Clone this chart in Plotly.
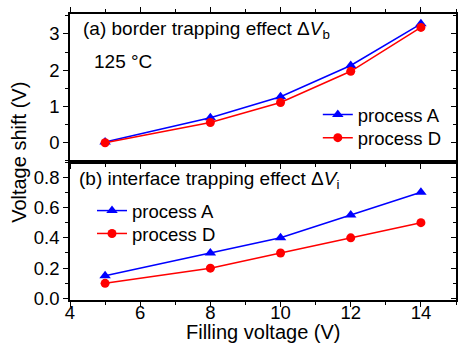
import plotly.graph_objects as go

x = [5, 8, 10, 12, 14]
border_A = [0.02, 0.69, 1.27, 2.13, 3.28]
border_D = [0.0, 0.56, 1.11, 1.97, 3.18]
iface_A = [0.15, 0.30, 0.40, 0.55, 0.70]
iface_D = [0.10, 0.20, 0.30, 0.40, 0.50]
x_ticks = [4, 6, 8, 10, 12, 14]

BLUE = "#0000ff"
RED = "#ff0000"
FONT = "Liberation Sans, Arial, sans-serif"
FS = 18.5

fig = go.Figure()
for ys, name, col, sym, xa, ya, lg in [
    (border_A, "process A", BLUE, "triangle-up", "x2", "y2", "legend"),
    (border_D, "process D", RED, "circle", "x2", "y2", "legend2"),
    (iface_A, "process A", BLUE, "triangle-up", "x", "y", "legend3"),
    (iface_D, "process D", RED, "circle", "x", "y", "legend4"),
]:
    fig.add_trace(go.Scatter(
        x=x, y=ys, name=name, mode="lines+markers", xaxis=xa, yaxis=ya,
        line=dict(color=col, width=1.5),
        marker=dict(symbol=sym, size=10 if sym == "triangle-up" else 9, color=col),
        legend=lg, showlegend=True,
    ))
# empty traces so the right-hand tick axes are drawn
for xa, ya in [("x", "y3"), ("x2", "y4")]:
    fig.add_trace(go.Scatter(x=[None], y=[None], xaxis=xa, yaxis=ya, showlegend=False,
                             hoverinfo="skip", mode="lines"))

base = dict(showline=True, linecolor="black", linewidth=1.5, showgrid=False, zeroline=False,
            tickcolor="black", tickwidth=1.2,
            tickfont=dict(family=FONT, size=FS, color="black"))

split = 138 / 286


def leg(xp, yp):
    return dict(x=xp, y=yp, xanchor="left", yanchor="middle", bgcolor="rgba(0,0,0,0)",
                font=dict(family=FONT, size=FS), tracegroupgap=0)


def minor(d, t0, where="outside"):
    return dict(ticks=where, ticklen=3, dtick=d, tick0=t0, tickcolor="black")


fig.update_layout(
    width=459, height=344,
    margin=dict(l=70, r=1, t=14, b=44),
    paper_bgcolor="white", plot_bgcolor="white",
    font=dict(family=FONT, size=FS, color="black"),
    showlegend=True,
    xaxis=dict(range=[4, 15], tickvals=x_ticks, domain=[0, 1], anchor="y",
               ticks="outside", ticklen=5, mirror=True, ticklabelstandoff=-10,
               minor=minor(1, 4), **base),
    yaxis=dict(range=[-0.01, 0.9], tickvals=[0, 0.2, 0.4, 0.6, 0.8], tickformat=".1f",
               domain=[0, split], anchor="x", ticks="outside", ticklen=5, mirror=True,
               minor=minor(0.1, 0), **base),
    yaxis3=dict(range=[-0.01, 0.9], tickvals=[0, 0.2, 0.4, 0.6, 0.8], overlaying="y",
                anchor="x", side="right", ticks="inside", ticklen=5, showticklabels=False,
                minor=minor(0.1, 0, "inside"), **base),
    xaxis2=dict(range=[4, 15], tickvals=x_ticks, matches="x", anchor="y2",
                showticklabels=False, ticks="outside", ticklen=5, mirror="ticks",
                minor=minor(1, 4), **base),
    yaxis2=dict(range=[-0.53, 3.55], tickvals=[0, 1, 2, 3], domain=[split, 1], anchor="x2",
                ticks="outside", ticklen=5, mirror=True, minor=minor(0.5, 0), **base),
    yaxis4=dict(range=[-0.53, 3.55], tickvals=[0, 1, 2, 3], overlaying="y2", anchor="x2",
                side="right", ticks="inside", ticklen=5, showticklabels=False,
                minor=minor(0.5, 0, "inside"), **base),
    legend=leg(0.642, 0.647),
    legend2=leg(0.642, 0.566),
    legend3=leg(0.057, 0.311),
    legend4=leg(0.057, 0.231),
    annotations=[
        dict(text="(a) border trapping effect Δ<i>V</i><sub>b</sub>", xref="paper", yref="paper",
             x=0.028, y=0.993, xanchor="left", yanchor="top", showarrow=False,
             font=dict(family=FONT, size=19)),
        dict(text="125 °C", xref="paper", yref="paper", x=0.057, y=0.879,
             xanchor="left", yanchor="top", showarrow=False, font=dict(family=FONT, size=19)),
        dict(text="(b) interface trapping effect Δ<i>V</i><sub>i</sub>", xref="paper", yref="paper",
             x=0.018, y=split - 0.014, xanchor="left", yanchor="top", showarrow=False,
             font=dict(family=FONT, size=19)),
        dict(text="Voltage shift (V)", xref="paper", yref="paper", x=-0.131, y=0.516,
             xanchor="center", yanchor="middle", textangle=-90, showarrow=False,
             font=dict(family=FONT, size=20)),
        dict(text="Filling voltage (V)", xref="paper", yref="paper", x=0.5, y=-0.113,
             xanchor="center", yanchor="middle", showarrow=False,
             font=dict(family=FONT, size=20)),
    ],
)

fig.write_html("out.html")
